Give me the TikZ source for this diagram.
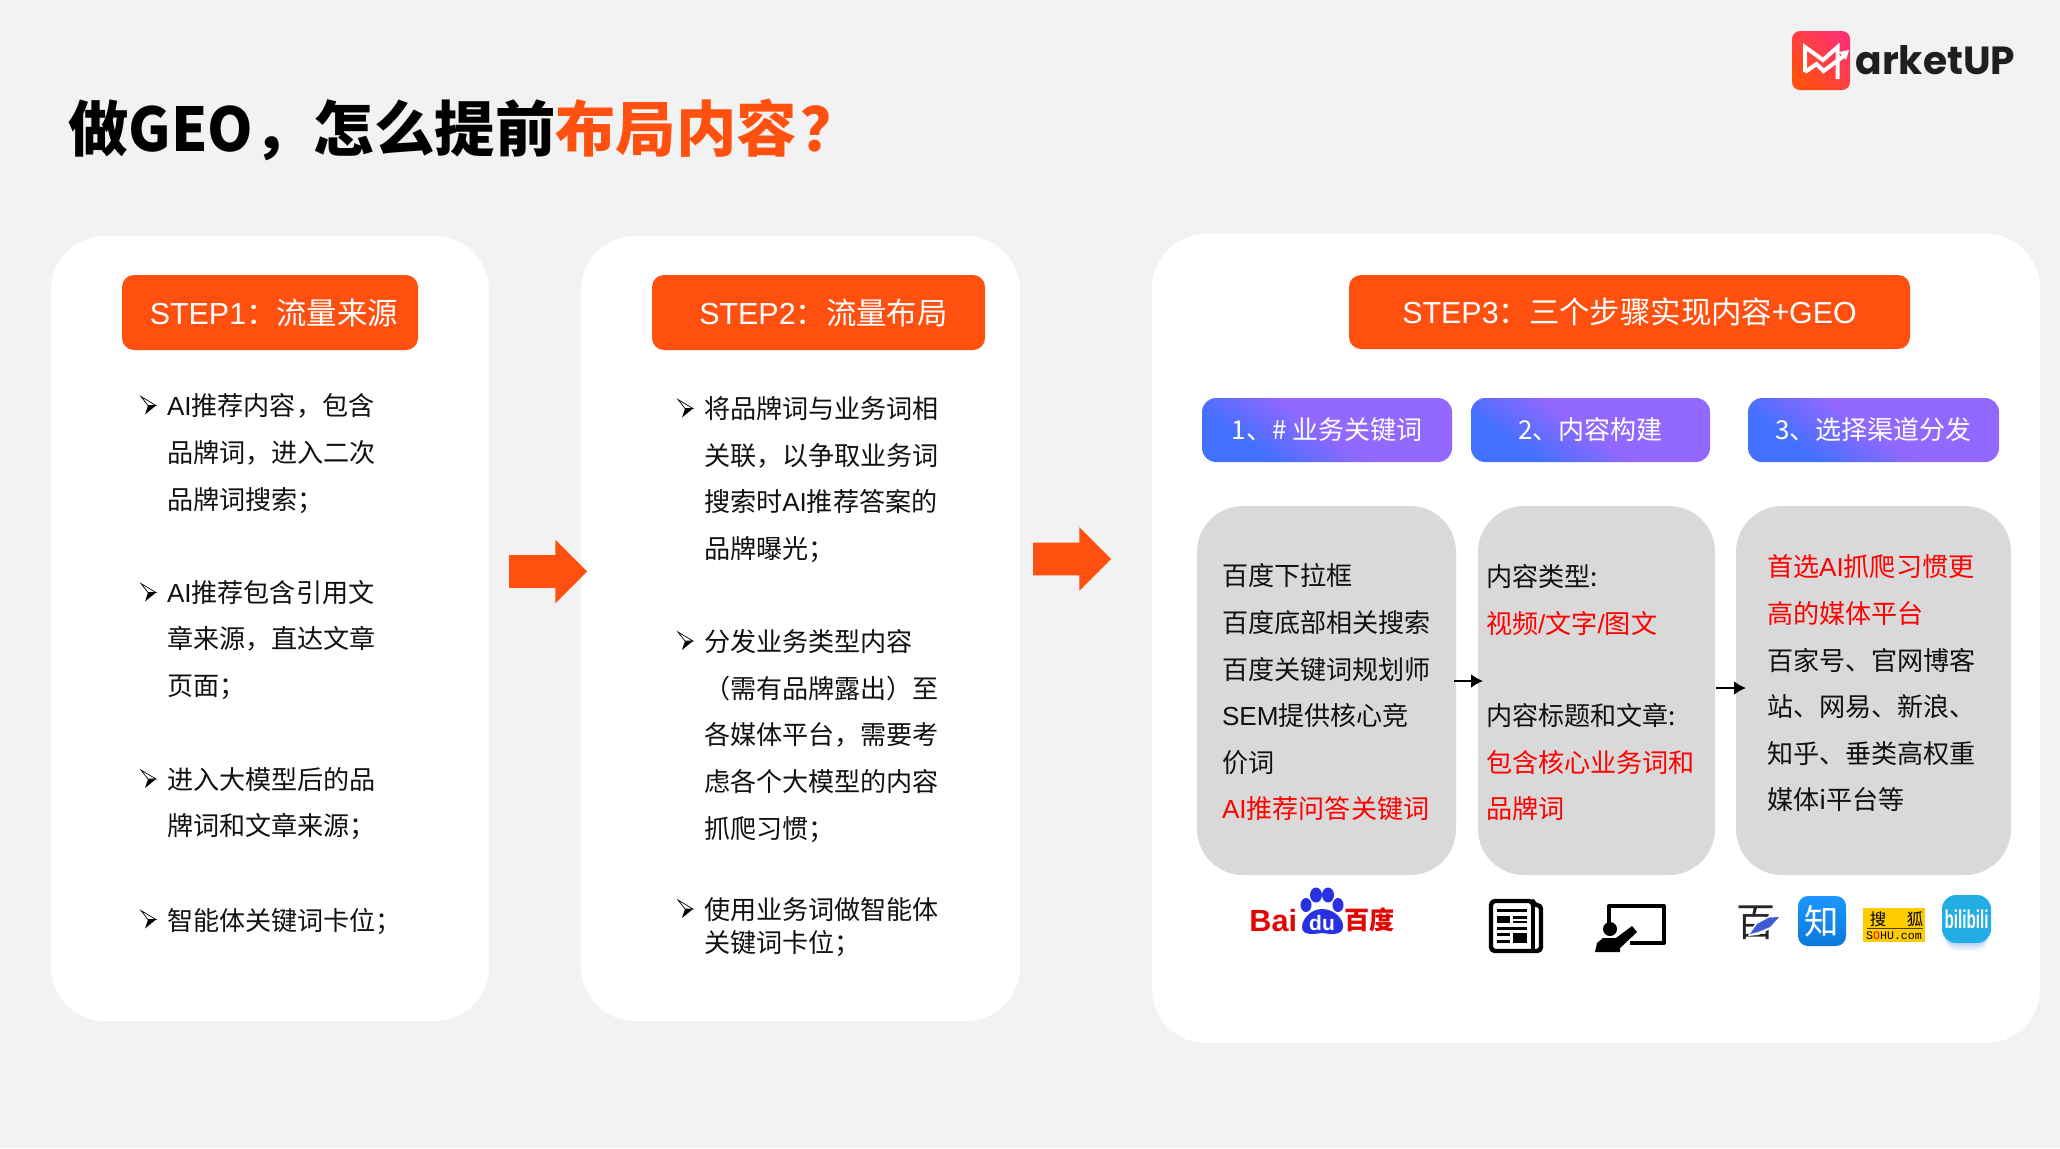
\documentclass[tikz,border=0pt]{standalone}
\usepackage{fontspec}
\usepackage{graphicx}
\setmainfont{Noto Sans CJK SC}
\newfontfamily\lat{Liberation Sans}
\newfontfamily\pop{Poppins}
\newfontfamily\mon{Liberation Mono}
\usetikzlibrary{arrows.meta,shapes.arrows}
\definecolor{pagebg}{HTML}{F2F2F2}
\definecolor{orng}{HTML}{FF5010}
\definecolor{grayb}{HTML}{D9D9D9}
\definecolor{redt}{HTML}{FF0000}
\definecolor{ink}{HTML}{111111}
\definecolor{pa}{HTML}{4470FF}
\definecolor{pb}{HTML}{9368FF}
\definecolor{bdr}{HTML}{E10602}
\definecolor{bdb}{HTML}{2932E1}
\definecolor{zha}{HTML}{1E96FF}
\definecolor{zhb}{HTML}{0A78DC}
\definecolor{shy}{HTML}{FFCC00}
\definecolor{bil}{HTML}{23ADE5}
\definecolor{bilsh}{HTML}{A9C4F2}
\definecolor{qui}{HTML}{3F5BD5}
\pgfdeclareverticalshading{purp}{100bp}{color(0bp)=(pa); color(30bp)=(pa); color(50bp)=(pb); color(100bp)=(pb)}
\newcommand{\lbox}[7]{%
  \pgfmathsetmacro\bw{(#5-#3)*0.5}\pgfmathsetmacro\bh{(#6-#4)*0.5}%
  \node[#2,minimum width=\bw pt,minimum height=\bh pt,inner sep=0pt,outer sep=0pt] (#1) at ({(#3+#5)/2},{(#4+#6)/2}) {#7};}
\tikzset{
  card/.style={fill=white,rounded corners=27pt},
  stepbox/.style={fill=orng,rounded corners=6pt,text=white,font={\fontsize{15.2}{18}\selectfont}},
  purpbox/.style={shading=purp,shading angle=-35,rounded corners=7pt,text=white,font={\fontsize{13}{16}\selectfont}},
  graybox/.style={fill=grayb,rounded corners=23pt},
  body/.style={anchor=west,align=left,inner sep=0pt,outer sep=0pt,text=ink,font={\fontsize{13.05}{23.3}\selectfont}},
  bigarrow/.style={single arrow,fill=orng,inner xsep=0pt,inner ysep=8pt,outer sep=0pt,minimum height=39pt,minimum width=31.5pt,single arrow head extend=7.75pt,single arrow tip angle=90},
  flow/.style={draw=black,line width=1.1pt,-{Latex[length=6pt,width=7pt]}},
  bulmark/.pic={
    \fill[black] (15,0) -- (4,9) -- (7,0) -- cycle;
    \draw[black,line width=.35pt,fill=white] (15,0) -- (0,-9) -- (7,0) -- cycle;
  }
}
\begin{document}
\begin{tikzpicture}[x=0.5pt,y=-0.5pt]
\useasboundingbox (0,0) rectangle (2060,1148);
\fill[pagebg] (0,0) rectangle (2060,1148);

% title
\node[anchor=west,inner sep=0pt,font={\fontsize{30.2}{36}\selectfont\bfseries}] (title) at (68,129.5) {做\scalebox{0.96}[1]{GEO}，怎么提前\textcolor{orng}{布局内容\hspace{2pt}？}};

% logo
\path[left color=orng!60!magenta,right color=orng,shading angle=-45,rounded corners=4pt] (1792,31) rectangle (1850,90);
\draw[white,line width=2pt,line join=miter] (1805,72) -- (1805,47) -- (1823,60) -- (1837.5,47) -- (1837.5,79);
\draw[white,line width=2pt] (1805,72) -- (1816.5,64) -- (1823.5,71) -- (1845,55);
\fill[white] (1849,50) -- (1839,52) -- (1846,60) -- cycle;
\node[anchor=base west,inner sep=0pt,text=black!88,font={\fontsize{19.6}{24}\selectfont\pop\bfseries}] (brand) at (1855,74) {arketUP};

% cards
\lbox{card1}{card}{51}{236}{489}{1021}{}
\lbox{card2}{card}{581}{236}{1020}{1021}{}
\lbox{card3}{card}{1152}{234}{2040}{1043}{}

% step headers
\lbox{step1}{stepbox}{122}{275}{418}{350}{\hspace{4pt}{\lat STEP1}：流量来源}
\lbox{step2}{stepbox}{652}{275}{985}{350}{\hspace{5pt}{\lat STEP2}：流量布局}
\lbox{step3}{stepbox}{1349}{275}{1910}{349}{{\lat STEP3}：三个步骤实现内容+{\lat GEO}}

% big arrows
\node[bigarrow] (arrow1) at (540,571.5) {};
\node[bigarrow] (arrow2) at (1064,559) {};

% card 1
\pic at (141,405.5) {bulmark};
\node[body] (c1a) at (167,453.5) {{\lat AI}推荐内容，包含\\品牌词，进入二次\\品牌词搜索；};
\pic at (141,592.5) {bulmark};
\node[body] (c1b) at (167,640) {{\lat AI}推荐包含引用文\\章来源，直达文章\\页面；};
\pic at (141,779) {bulmark};
\node[body] (c1c) at (167,803.7) {进入大模型后的品\\牌词和文章来源；};
\pic at (141,919.5) {bulmark};
\node[body] (c1d) at (167,921.7) {智能体关键词卡位；};

% card 2
\pic at (678,408.5) {bulmark};
\node[body] (c2a) at (704,479.5) {将品牌词与业务词相\\关联，以争取业务词\\搜索时{\lat AI}推荐答案的\\品牌曝光；};
\pic at (678,641) {bulmark};
\node[body] (c2b) at (704,736) {分发业务类型内容\\（需有品牌露出）至\\各媒体平台，需要考\\虑各个大模型的内容\\抓爬习惯；};
\pic at (678,909) {bulmark};
\node[body,font={\fontsize{13.05}{16.5}\selectfont}] (c2c) at (704,927) {使用业务词做智能体\\关键词卡位；};

% purple headers
\lbox{p1}{purpbox}{1202}{398}{1452}{462}{1、\# 业务关键词}
\lbox{p2}{purpbox}{1471}{398}{1710}{462}{2、内容构建}
\lbox{p3}{purpbox}{1748}{398}{1999}{462}{3、选择渠道分发}

% gray boxes
\lbox{g1}{graybox}{1197}{506}{1456}{875}{}
\lbox{g2}{graybox}{1478}{506}{1715}{875}{}
\lbox{g3}{graybox}{1736}{506}{2011}{875}{}

\node[body] (t1) at (1222,692.4) {百度下拉框\\百度底部相关搜索\\百度关键词规划师\\{\lat SEM}提供核心竞\\价词\\\textcolor{redt}{{\lat AI}推荐问答关键词}};
\node[body] (t2a) at (1486,600) {内容类型:\\\textcolor{redt}{视频{\lat /}文字{\lat /}图文}};
\node[body] (t2b) at (1486,762) {内容标题和文章:\\\textcolor{redt}{包含核心业务词和}\\\textcolor{redt}{品牌词}};
\node[body] (t3) at (1767,683.5) {\textcolor{redt}{首选{\lat AI}抓爬习惯更}\\\textcolor{redt}{高的媒体平台}\\百家号、官网博客\\站、网易、新浪、\\知乎、垂类高权重\\媒体i平台等};

% flow arrows
\coordinate (f1a) at (1454,681);
\coordinate (f1b) at (1483,681);
\coordinate (f2a) at (1716,688);
\coordinate (f2b) at (1746,688);
\draw[flow] (f1a) -- (f1b);
\draw[flow] (f2a) -- (f2b);

% baidu logo
\node[anchor=base west,inner sep=0pt,text=bdr,font={\fontsize{15.3}{18}\selectfont\lat\bfseries}] (bai) at (1249,931) {Bai};
\fill[bdb] (1306,905) ellipse [x radius=5.5,y radius=7];
\fill[bdb] (1316,895) ellipse [x radius=6,y radius=7.5];
\fill[bdb] (1328,895) ellipse [x radius=6,y radius=7.5];
\fill[bdb] (1338,905) ellipse [x radius=5.5,y radius=7];
\fill[bdb] (1322,909) .. controls (1335,909) and (1344,920) .. (1343,927) .. controls (1342,936) and (1330,934) .. (1322,933) .. controls (1314,934) and (1302,936) .. (1302,927) .. controls (1302,920) and (1310,909) .. (1322,909) -- cycle;
\node[inner sep=0pt,text=white,font={\fontsize{10.5}{12}\selectfont\lat\bfseries}] (du) at (1322,922.5) {du};
\node[anchor=west,inner sep=0pt,text=bdr,font={\fontsize{12.6}{14}\selectfont\bfseries}] (baidu) at (1344,920) {百度};

% newspaper icon
\draw[black,line width=2.2pt,line join=round,rounded corners=2pt] (1491,901) -- (1533,901) -- (1533,905) -- (1541,905) -- (1541,951) -- (1491,951) -- cycle;
\draw[black,line width=2.2pt,line cap=butt] (1533,903) -- (1533,950);
\fill[black] (1497,909) rectangle (1527,912);
\fill[black] (1497,916) rectangle (1510,923);
\fill[black] (1513,916) rectangle (1527,918.5);
\fill[black] (1513,920.5) rectangle (1527,923);
\fill[black] (1497,927) rectangle (1527,930);
\fill[black] (1497,933) rectangle (1510,936);
\fill[black] (1497,940) rectangle (1510,943);
\fill[black] (1513,933) rectangle (1527,943);

% teaching icon
\draw[black,line width=2pt,line join=round] (1609,923) -- (1609,906) -- (1664,906) -- (1664,943) -- (1630,943);
\fill[black] (1610,929) circle [radius=7];
\fill[black] (1595,952) -- (1597,943) -- (1603,938) -- (1616,938) -- (1632,926) -- (1637,932) -- (1620,948) -- (1620,952) -- cycle;

% baijia icon
\node[inner sep=0pt,text=black!85,font={\fontsize{19.5}{22}\selectfont}] (bj) at (1756,923) {百};
\fill[white] (1748,936) -- (1756,922) -- (1769,916) -- (1781,916) -- (1772,928) -- (1758,935) -- cycle;
\fill[qui] (1750,934) -- (1757,924) -- (1769,917.5) -- (1779,917) -- (1770,927) -- (1758,932) -- cycle;

% zhihu icon
\lbox{zh}{top color=zha,bottom color=zhb,rounded corners=5pt,text=white,font={\fontsize{17.2}{20}\selectfont}}{1798}{896}{1846}{946}{知}

% sohu icon
\lbox{sh}{fill=shy}{1863}{908}{1925}{942}{}
\node[inner sep=0pt,text=black,font={\fontsize{8.2}{10}\selectfont}] (sh1) at (1878,919) {搜};
\node[inner sep=0pt,text=black,font={\fontsize{8.2}{10}\selectfont}] (sh2) at (1915,919) {狐};
\fill[black!70!shy] (1867,927.5) rectangle (1923,928.5);
\node[inner sep=0pt,text=black,font={\fontsize{5.8}{7}\selectfont\mon}] (sh3) at (1894,936) {S\textcolor{redt}{O}HU.com};

% bilibili icon
\foreach \i/\o in {8/.15,6/.2,4/.3,2/.4}{\fill[bilsh,opacity=\o,rounded corners=6pt] (1945,925) rectangle (1988,943+\i);}
\lbox{bl}{fill=bil,rounded corners=7pt,text=white,font={\fontsize{9.5}{10}\selectfont\lat\bfseries}}{1942}{895}{1991}{943}{\scalebox{0.8}[1.35]{bilibili}}
\end{tikzpicture}
\end{document}
